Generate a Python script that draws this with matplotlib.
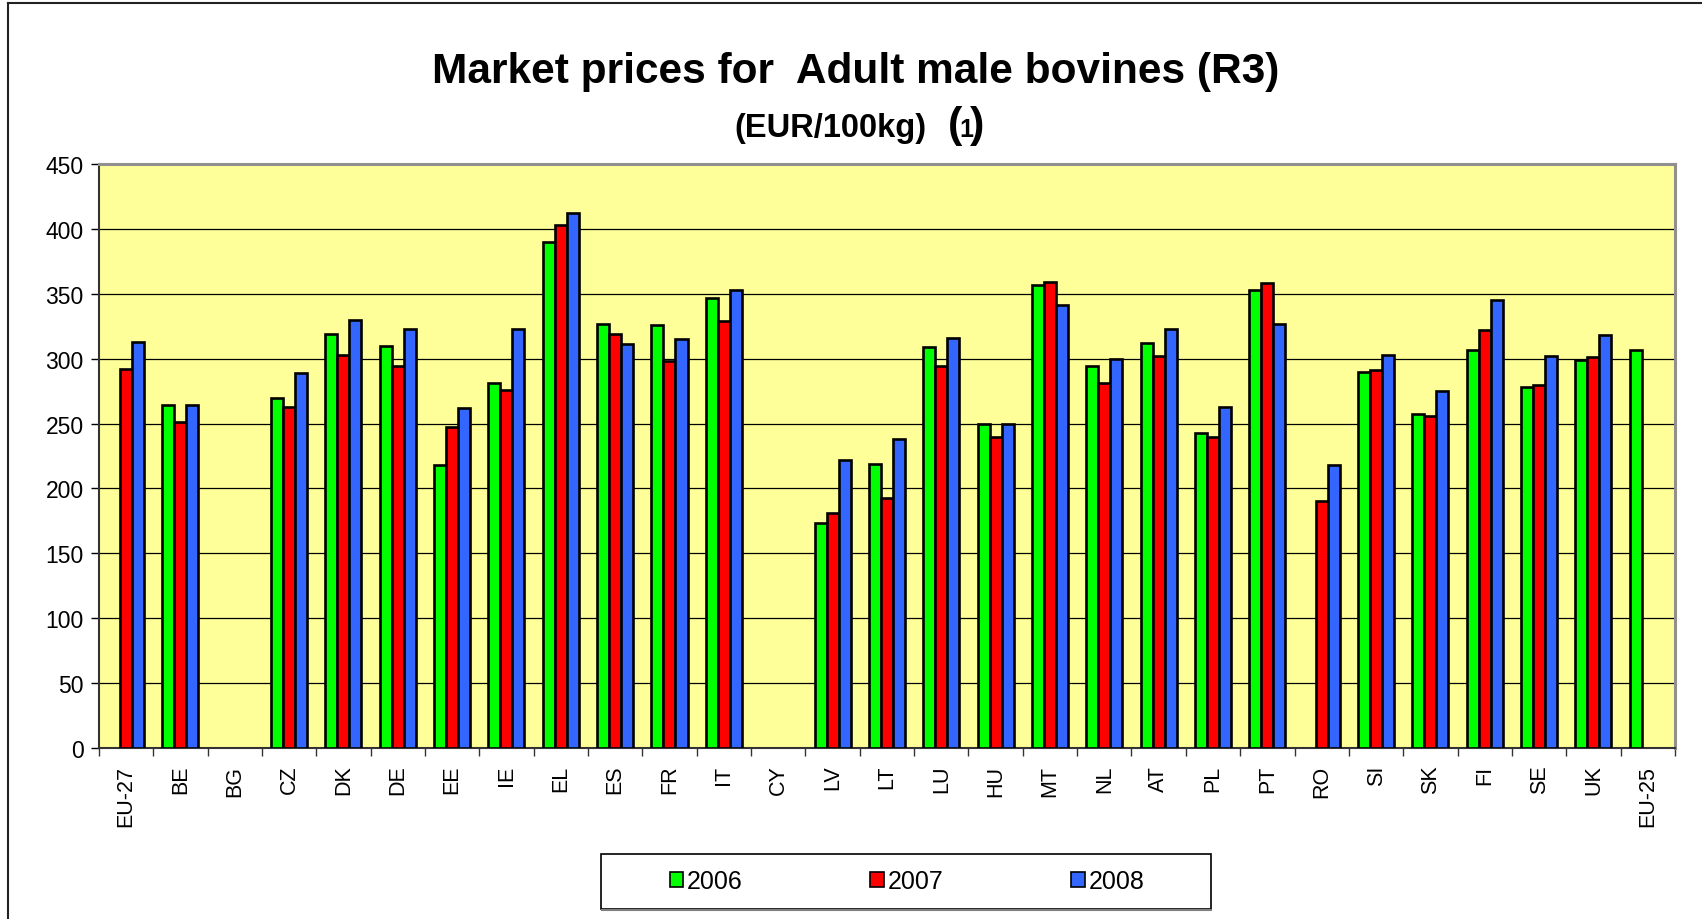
import numpy as np
import matplotlib
matplotlib.use("Agg")
import matplotlib.pyplot as plt
from matplotlib.patches import Patch, Rectangle
from matplotlib.lines import Line2D

plt.rcParams['font.family'] = ['Liberation Sans', 'DejaVu Sans']

# ------------------------- #
#           Datos           #
# ------------------------- #

paises = ["EU-27", "BE", "BG", "CZ", "DK", "DE", "EE", "IE", "EL", "ES",
          "FR", "IT", "CY", "LV", "LT", "LU", "HU", "MT", "NL", "AT",
          "PL", "PT", "RO", "SI", "SK", "FI", "SE", "UK", "EU-25"]

nan = np.nan
precios_2006 = [nan, 264, nan, 270, 319, 310, 218, 281, 390, 327,
                326, 347, nan, 173, 219, 309, 250, 357, 294, 312,
                243, 353, nan, 290, 257, 307, 278, 299, 307]
precios_2007 = [292, 251, nan, 263, 303, 294, 247, 276, 403, 319,
                298, 329, nan, 181, 193, 294, 240, 359, 281, 302,
                240, 358, 190, 291, 256, 322, 280, 301, nan]
precios_2008 = [313, 264, nan, 289, 330, 323, 262, 323, 412, 311,
                315, 353, nan, 222, 238, 316, 250, 341, 300, 323,
                263, 327, 218, 303, 275, 345, 302, 318, nan]

anios = ["2006", "2007", "2008"]
colores = ["#00FF00", "#FF0000", "#3366FF"]

# ------------------------- #
#          Figura           #
# ------------------------- #

W, H = 1702, 920
fig = plt.figure(figsize=(W / 100, H / 100), dpi=100)
ax = fig.add_axes([98.8 / W, 1 - 749 / H, (1675 - 98.8) / W, (749 - 165) / H])
ax.set_facecolor("#FFFF99")

x = np.arange(len(paises))
ancho = 0.221
series = [precios_2006, precios_2007, precios_2008]
for k, (vals, col) in enumerate(zip(series, colores)):
    ax.bar(x + (k - 1) * ancho, np.array(vals, dtype=float), width=ancho,
           color=col, edgecolor="black", linewidth=1.9, zorder=3)

# Ejes
ax.set_xlim(-0.5, len(paises) - 0.5)
ax.set_ylim(0, 450)
ax.set_yticks(np.arange(0, 451, 50))
ax.tick_params(axis="y", labelsize=16.5, length=6, width=1, direction="out", pad=5)
ax.yaxis.grid(True, color="black", linewidth=0.9, zorder=1)
ax.set_axisbelow(True)

ax.set_xticks(x)
ax.set_xticklabels(paises, rotation=90, fontsize=15.5)
ax.set_xticks(np.arange(-0.5, len(paises), 1), minor=True)
ax.tick_params(axis="x", which="major", length=0, pad=12)
ax.tick_params(axis="x", which="minor", length=6, width=1, direction="out", color="#333333")

ax.spines["left"].set_color("#333333")
ax.spines["left"].set_linewidth(1.5)
ax.spines["bottom"].set_color("#333333")
ax.spines["bottom"].set_linewidth(1.5)
ax.spines["top"].set_color("#909090")
ax.spines["top"].set_linewidth(2.2)
ax.spines["right"].set_color("#909090")
ax.spines["right"].set_linewidth(2.2)

# Titulos
fig.text(856 / W, 1 - 71.5 / H, "Market prices for  Adult male bovines (R3)",
         fontsize=30.5, fontweight="bold", ha="center", va="center")
y_base = 1 - 137 / H
fig.text(734 / W, y_base, "(EUR/100kg)", fontsize=23.5, fontweight="bold",
         ha="left", va="baseline")
fig.text(948 / W, y_base, "(", fontsize=31, fontweight="bold", ha="left", va="baseline")
fig.text(959 / W, y_base, "1", fontsize=18, fontweight="bold", ha="left", va="baseline")
fig.text(970 / W, y_base, ")", fontsize=31, fontweight="bold", ha="left", va="baseline")

# Leyenda
fig.patches.append(Rectangle((601 / W, 1 - 910 / H), 610 / W, 55 / H,
                             transform=fig.transFigure, facecolor="white",
                             edgecolor="black", linewidth=1.2))
fig.lines.append(Line2D([602 / W, 1211 / W], [1 - 910.5 / H, 1 - 910.5 / H],
                        transform=fig.transFigure, color="#808080", linewidth=1.5))
handles = [Patch(facecolor=c, edgecolor="black", linewidth=1.2) for c in colores]
fig.legend(handles, anios, loc="center", bbox_to_anchor=(907 / W, 1 - 882.5 / H),
           ncol=3, frameon=False, fontsize=18, handlelength=0.55, handleheight=0.55,
           handletextpad=0.15, columnspacing=5.1)

# Marco de la figura
fig.lines.append(Line2D([7.5 / W, 1], [1 - 4 / H, 1 - 4 / H], transform=fig.transFigure,
                        color="#222222", linewidth=1.5))
fig.lines.append(Line2D([7.5 / W, 7.5 / W], [0, 1 - 4 / H], transform=fig.transFigure,
                        color="#222222", linewidth=1.5))

fig.savefig("out.png", dpi=100)
